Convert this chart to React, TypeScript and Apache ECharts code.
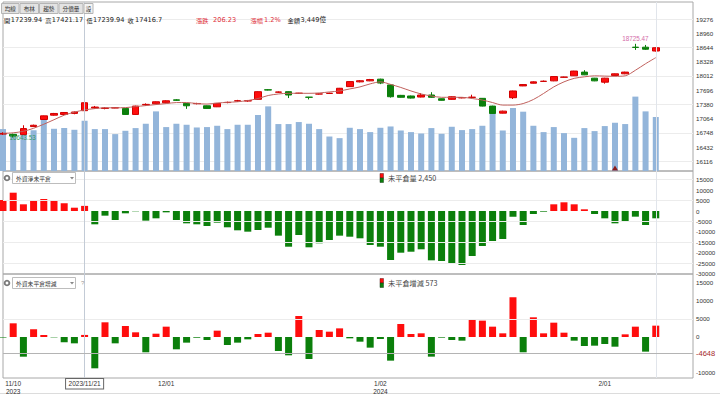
import React, { useEffect, useRef } from 'react';
import * as echarts from 'echarts';

// ---- data ----
const dates = [
  '2023/11/09','2023/11/10','2023/11/13','2023/11/14','2023/11/15','2023/11/16','2023/11/17','2023/11/20','2023/11/21','2023/11/22',
  '2023/11/23','2023/11/24','2023/11/27','2023/11/28','2023/11/29','2023/11/30','2023/12/01','2023/12/04','2023/12/05','2023/12/06',
  '2023/12/07','2023/12/08','2023/12/11','2023/12/12','2023/12/13','2023/12/14','2023/12/15','2023/12/18','2023/12/19','2023/12/20',
  '2023/12/21','2023/12/22','2023/12/25','2023/12/26','2023/12/27','2023/12/28','2023/12/29','2024/01/02','2024/01/03','2024/01/04',
  '2024/01/05','2024/01/08','2024/01/09','2024/01/10','2024/01/11','2024/01/12','2024/01/15','2024/01/16','2024/01/17','2024/01/18',
  '2024/01/19','2024/01/22','2024/01/23','2024/01/24','2024/01/25','2024/01/26','2024/01/29','2024/01/30','2024/01/31','2024/02/01',
  '2024/02/02','2024/02/05','2024/02/15','2024/02/16','2024/02/19',
];
const opens = [16720,16714,16708,16887,17044,17140,17156,17180,17239.94,17300,
  17290,17300,17290,17156,17370,17393,17415,17480,17402,17395,
  17349,17326,17420,17455,17455,17492,17705,17650,17662,17626,
  17540,17610,17622,17626,17774,17880,17902,17940,17812,17580,
  17566,17543,17588,17505,17492,17525,17535,17514,17342,17185,
  17528,17790,17850,17890,17902,17982,18014,18097,17962,17873,
  18021,18059,18650,18650,18565];
const closes = [16735,16676,16842,16916,17125,17178,17200,17210.47,17416.7,17320,
  17300,17306,17156,17342,17380,17438,17460,17470,17349,17400,
  17290,17402,17425,17460,17462,17662,17698,17655,17588,17628,
  17537,17612,17628,17738,17886,17905,17930.81,17853.76,17550,17537,
  17520,17588,17537,17470,17550,17530,17540,17342,17178,17230,
  17678,17820,17880,17895,17998,17988,18120,18036,17902,17962,
  18059,18097,18644.39,18605,18638];
const lows = [16700,16643.53,16700,16880,17040,17130,17150,17160,17239.94,17285,
  17270,17295,17150,17150,17349,17390,17410,17455,17280,17380,
  17285,17320,17405,17440,17440,17488,17690,17635,17520,17620,
  17490,17600,17610,17620,17770,17870,17895,17830,17530,17530,
  17510,17535,17525,17465,17485,17515,17520,17335,17170,17180,
  17500,17785,17845,17880,17895,17975,18010,18030,17895,17840,
  18015,18050,18590,18590,18555];
const highs = [16760,16730,16916,16930,17130,17190,17210,17220,17421.17,17345,
  17320,17315,17300,17350,17402,17445,17470,17495,17410,17415,
  17355,17410,17440,17480,17478,17670,17720,17665,17670,17635,
  17545,17620,17640,17745,17890,17920,17945,17950,17820,17590,
  17575,17630,17650,17510,17560,17540,17595,17520,17350,17240,
  17685,17830,17890,17910,18005,17995,18125,18140,17968,17970,
  18065,18105,18725.47,18700,18645];
const ma = [16737,16748,16782,16849,16939,17039,17140,17207,17257,17286,
  17304,17304,17308,17331,17353,17376,17398,17420,17420,17398,
  17387,17409,17425,17438,17465,17510,17577,17611,17626,17626,
  17626,17633,17656,17678,17723,17768,17835,17880,17824,17756,
  17678,17611,17566,17537,17537,17537,17510,17476,17420,17364,
  17364,17398,17488,17622,17768,17880,17958,17992,18014,18008,
  18003,18014,18137,18283,18418];
const volumes = [2877,2519,2588,2795,3519,2898,2946,2829,3449,2877,
  2877,2532,2760,2946,3243,4092,3015,3243,3174,2988,
  3015,3105,2877,3174,3174,3843,4437,3222,3222,3360,
  3243,2877,2367,2256,2967,2877,2670,2967,3057,2781,
  2670,2574,2946,2553,3036,2808,2877,3105,3981,2781,
  4326,4071,3105,2670,3015,2601,2277,2946,2739,3084,
  3312,3222,5106,4092,3705];
const netOI = [5260,8760,3200,5260,5740,5260,3680,1580,2450,-6370,
  -2230,-4300,-1110,-150,-4620,-3500,-640,-4300,-5900,-6370,
  -7180,-5580,-7800,-9240,-9890,-9090,-7990,-11800,-17080,-11480,
  -17370,-15460,-13880,-11800,-12300,-13060,-16270,-17080,-23450,-19950,
  -19480,-18330,-23600,-23930,-24880,-25840,-21530,-16750,-14360,-13400,
  -2710,-6700,-1440,-320,3200,4160,3200,810,-1440,-3500,
  -5900,-5100,-2710,-6700,-3500];
const oiChange = [-150,3800,-5470,2130,550,-100,-1480,-1760,573,-8700,
  4080,-1760,3060,1300,-4250,920,2870,-3420,-1570,-200,
  -830,1760,-2220,-1570,-650,830,1200,-3890,-5090,5830,
  -6110,1940,1480,2400,-370,-1300,-2960,-550,-6570,3610,
  830,1020,-5460,-180,-830,-1020,4720,4540,2870,1020,
  11030,-4250,5470,1020,3980,1200,-1020,-2500,-2410,-1940,
  -2690,740,2870,-4070,3150];
const priceTicks = [19276,18960,18644,18328,18012,17696,17380,17064,16748,16432,16116];
const priceGrid = [19276,18644,18012,17380,16748,16116];
const netTicks = [15000,10000,5000,0,-5000,-10000,-15000,-20000,-25000,-30000];
const netGrid = [15000,5000,-5000,-15000,-25000];
const chgTicks = [15000,10000,5000,0,-10000];
const chgGrid = [5000];
const xTickIdx = [1,16,37,59];
const xTickText = ['11/10\n2023','12/01','1/02\n2024','2/01'];
const tabs = ['均線','布林','趨勢','分價量','設'];
const cursorIdx = 8;
const cursorChg = -4648;
const lastIdx = 64;
const markerIdx = 60;

// ---- styles ----
const RED = '#ff0d0d';
const RED_B = '#d10000';
const GREEN = '#0b7f0b';
const CJK = "'Noto Sans CJK TC', 'Liberation Sans', sans-serif";
const NUM = "'Liberation Sans', 'Noto Sans CJK TC', sans-serif";
const HEAD = "'DejaVu Sans', 'Noto Sans CJK TC', sans-serif";
const XMAX = 67.65;

const fmt = (n: number) => n.toLocaleString('en-US');

export default function App() {
  const ref = useRef<HTMLDivElement>(null);
  useEffect(() => {
    const chart = echarts.init(ref.current!, null, { renderer: 'svg' });
    const c = cursorIdx;
    const chg = +(closes[c] - closes[c - 1]).toFixed(2);
    const pct = ((chg / closes[c - 1]) * 100).toFixed(1);
    const maxHigh = Math.max(...highs);
    const minLow = Math.min(...lows);
    const maxIdx = highs.indexOf(maxHigh);
    const minIdx = lows.indexOf(minLow);

    const xAxisOf = (g: number) => ({
      type: 'value', gridIndex: g, min: 0, max: XMAX,
      axisLine: { show: false }, axisTick: { show: false }, splitLine: { show: false },
      axisLabel: g === 2 ? {
        show: true, customValues: xTickIdx,
        formatter: (v: number) => { const k = xTickIdx.indexOf(Math.round(v)); return k >= 0 ? xTickText[k] : ''; },
        fontSize: 6.5, lineHeight: 7.5, color: '#333', margin: 2, fontFamily: NUM,
      } : { show: false },
    });
    const yRight = (g: number, min: number, max: number, ticks: number[]) => ({
      type: 'value', gridIndex: g, position: 'right', min, max,
      axisLine: { show: false }, axisTick: { show: false }, splitLine: { show: false },
      axisLabel: { customValues: ticks, formatter: (v: number) => String(v), fontSize: 6.2, color: '#333', margin: 3, fontFamily: NUM },
    });
    const vLines = (withLabel: boolean) => [
      {
        xAxis: cursorIdx, lineStyle: { color: '#c3cbd6', width: 1, type: 'solid' },
        label: withLabel ? {
          show: true, position: 'start', distance: 1, formatter: dates[cursorIdx],
          fontSize: 6.5, color: '#333', fontFamily: NUM, backgroundColor: '#fff',
          borderColor: '#666', borderWidth: 1, padding: [1.5, 2.5],
        } : { show: false },
      },
      { xAxis: lastIdx, lineStyle: { color: '#e1e5eb', width: 1, type: 'solid' }, label: { show: false } },
    ];
    const gridLines = (vals: number[]) => vals.map(v => ({ yAxis: v, lineStyle: { color: '#ececec', width: 1, type: 'solid' }, label: { show: false } }));

    const option: any = {
      animation: false,
      backgroundColor: '#fff',
      textStyle: { fontFamily: NUM },
      grid: [
        { left: 3, top: 2, width: 690, height: 169, show: true, borderColor: '#a8a8a8', borderWidth: 1 },
        { left: 3, top: 171, width: 690, height: 103, show: true, borderColor: '#a8a8a8', borderWidth: 1 },
        { left: 3, top: 274, width: 690, height: 104, show: true, borderColor: '#a8a8a8', borderWidth: 1 },
      ],
      xAxis: [xAxisOf(0), xAxisOf(1), xAxisOf(2)],
      yAxis: [
        yRight(0, 15900, 19654, priceTicks),
        { type: 'value', gridIndex: 0, min: 0, max: 11600, show: false, splitLine: { show: false } },
        yRight(1, -30144, 19140, netTicks),
        yRight(2, -11390, 17500, chgTicks),
      ],
      series: [
        {
          type: 'bar', name: 'vol', xAxisIndex: 0, yAxisIndex: 1, barWidth: 6,
          data: volumes.map((v, i) => [i, v]),
          itemStyle: { color: '#93b5da' },
          markPoint: {
            symbol: 'triangle', symbolSize: [6, 5], symbolOffset: [0, -3],
            itemStyle: { color: '#8a1c1c' }, label: { show: false },
            data: [{ coord: [markerIdx, 0] }],
          },
          markLine: { silent: true, symbol: ['none', 'none'], data: vLines(false) },
        },
        {
          type: 'candlestick', name: 'k', xAxisIndex: 0, yAxisIndex: 0, barWidth: 7,
          encode: { x: 0, y: [1, 2, 3, 4] },
          data: dates.map((_, i) => [i, opens[i], closes[i], lows[i], highs[i]]),
          itemStyle: { color: RED, color0: GREEN, borderColor: RED_B, borderColor0: GREEN, borderWidth: 1 },
          markLine: { silent: true, z: 1, symbol: ['none', 'none'], data: gridLines(priceGrid) },
          markPoint: {
            symbol: 'circle', symbolSize: 1, itemStyle: { color: 'rgba(0,0,0,0)' },
            data: [
              { coord: [maxIdx, maxHigh], label: { show: true, position: 'top', distance: 2, formatter: maxHigh.toFixed(2), color: '#d36ba8', fontSize: 6.3 } },
              { coord: [minIdx, minLow], label: { show: true, position: 'inside', offset: [9.5, 0], formatter: minLow.toFixed(2), color: '#3a9a66', fontSize: 6.3 } },
            ],
          },
        },
        {
          type: 'line', name: 'ma', xAxisIndex: 0, yAxisIndex: 0, symbol: 'none', smooth: 0.3,
          data: ma.map((v, i) => [i, v]),
          lineStyle: { color: '#c0605c', width: 1 },
        },
        {
          type: 'bar', name: 'net', xAxisIndex: 1, yAxisIndex: 2, barWidth: 7,
          data: netOI.map((v, i) => ({ value: [i, v], itemStyle: { color: v >= 0 ? RED : GREEN } })),
          markLine: { silent: true, symbol: ['none', 'none'], data: [...gridLines(netGrid), ...vLines(false)] },
        },
        {
          type: 'bar', name: 'chg', xAxisIndex: 2, yAxisIndex: 3, barWidth: 7,
          data: oiChange.map((v, i) => ({ value: [i, v], itemStyle: { color: v >= 0 ? RED : GREEN } })),
          markLine: {
            silent: true, symbol: ['none', 'none'],
            data: [
              ...gridLines(chgGrid),
              ...vLines(true),
              {
                yAxis: cursorChg, lineStyle: { color: '#b4b4b4', width: 1, type: 'solid' },
                label: { show: true, position: 'end', distance: 3, formatter: String(cursorChg), color: '#a52a2a', fontSize: 7.5, fontFamily: NUM },
              },
            ],
          },
        },
      ],
      graphic: { elements: buildGraphic(c, chg, pct) },
    };
    chart.setOption(option);
    return () => chart.dispose();
  }, []);
  return <div ref={ref} style={{ position: 'fixed', left: 0, top: 0, width: 720, height: 395, background: '#fff' }} />;
}

function txt(x: number, y: number, text: string, size: number, fill: string, family = CJK, align = 'left') {
  return { type: 'text', x, y, silent: true, z: 100, style: { text, fontSize: size, fill, fontFamily: family, verticalAlign: 'middle', align } };
}

function buildGraphic(c: number, chg: number, pct: string) {
  const els: any[] = [];
  // tabs
  const tabX = [1, 19.5, 39, 58.5, 83.5];
  const tabW = [17.5, 18.5, 18.5, 24, 9];
  tabs.forEach((t, i) => {
    els.push({ type: 'rect', shape: { x: tabX[i] + 0.5, y: 3.5, width: tabW[i], height: 10 }, style: { fill: i === 4 ? '#f4f4f4' : '#e3e3e3', stroke: '#b5b5b5', lineWidth: 1 }, z: 99, silent: true });
    els.push(txt(tabX[i] + 0.5 + tabW[i] / 2, 8.7, t, 5.6, '#333', CJK, 'center'));
  });
  // header row: [x, text, color, fontSize]
  const black = '#222';
  const red = '#e0303a';
  const head: [number, string, string, number][] = [
    [4, '開', black, 6.2], [10.8, String(opens[c]), black, 6.6],
    [45.3, '高', black, 6.2], [51.8, String(highs[c]), black, 6.6],
    [86.5, '低', black, 6.2], [93, String(lows[c]), black, 6.6],
    [127.5, '收', black, 6.2], [135, String(closes[c]), black, 6.6],
    [196, '漲跌', red, 6.2], [213, chg.toFixed(2), red, 6.6],
    [250.5, '漲幅', red, 6.2], [264, pct + '%', red, 6.6],
    [287.5, '金額', black, 6.2], [300.5, fmt(volumes[c]) + '億', black, 6.6],
  ];
  head.forEach(([x, t, col, size]) => els.push(txt(x, 20, t, size, col, HEAD)));

  // panel headers
  const panel = (y: number, name: string, legend: string, q: boolean) => {
    els.push({ type: 'circle', shape: { cx: 7, cy: y, r: 3.3 }, style: { fill: '#7a7a7a' }, z: 99, silent: true });
    els.push({ type: 'circle', shape: { cx: 7, cy: y, r: 1.4 }, style: { fill: '#fff' }, z: 100, silent: true });
    els.push({ type: 'rect', shape: { x: 12.5, y: y - 5.5, width: 63, height: 11 }, style: { fill: '#fff', stroke: '#bdbdbd', lineWidth: 1 }, z: 99, silent: true });
    els.push(txt(16, y, name, 5.8, '#333'));
    els.push({ type: 'polygon', shape: { points: [[70, y - 1], [74, y - 1], [72, y + 1.5]] }, style: { fill: '#888' }, z: 100, silent: true });
    if (q) els.push(txt(81, y, '?', 6, '#999', NUM));
    els.push({ type: 'rect', shape: { x: 380, y: y - 4.5, width: 3.5, height: 4.5 }, style: { fill: RED, stroke: '#5a1a1a', lineWidth: 0.5 }, z: 100, silent: true });
    els.push({ type: 'rect', shape: { x: 380, y: y, width: 3.5, height: 4.5 }, style: { fill: GREEN, stroke: '#1a3a1a', lineWidth: 0.5 }, z: 100, silent: true });
    els.push(txt(388, y - 0.5, legend, 7.2, '#444'));
  };
  panel(178, '外資淨未平倉', '未平倉量 ' + fmt(netOI[c]), false);
  panel(283, '外資未平倉增減', '未平倉增減 ' + fmt(oiChange[c]), true);

  els.push({ type: 'line', shape: { x1: 0, y1: 393.5, x2: 720, y2: 393.5 }, style: { stroke: '#dcdcdc', lineWidth: 1 }, silent: true });
  return els;
}
